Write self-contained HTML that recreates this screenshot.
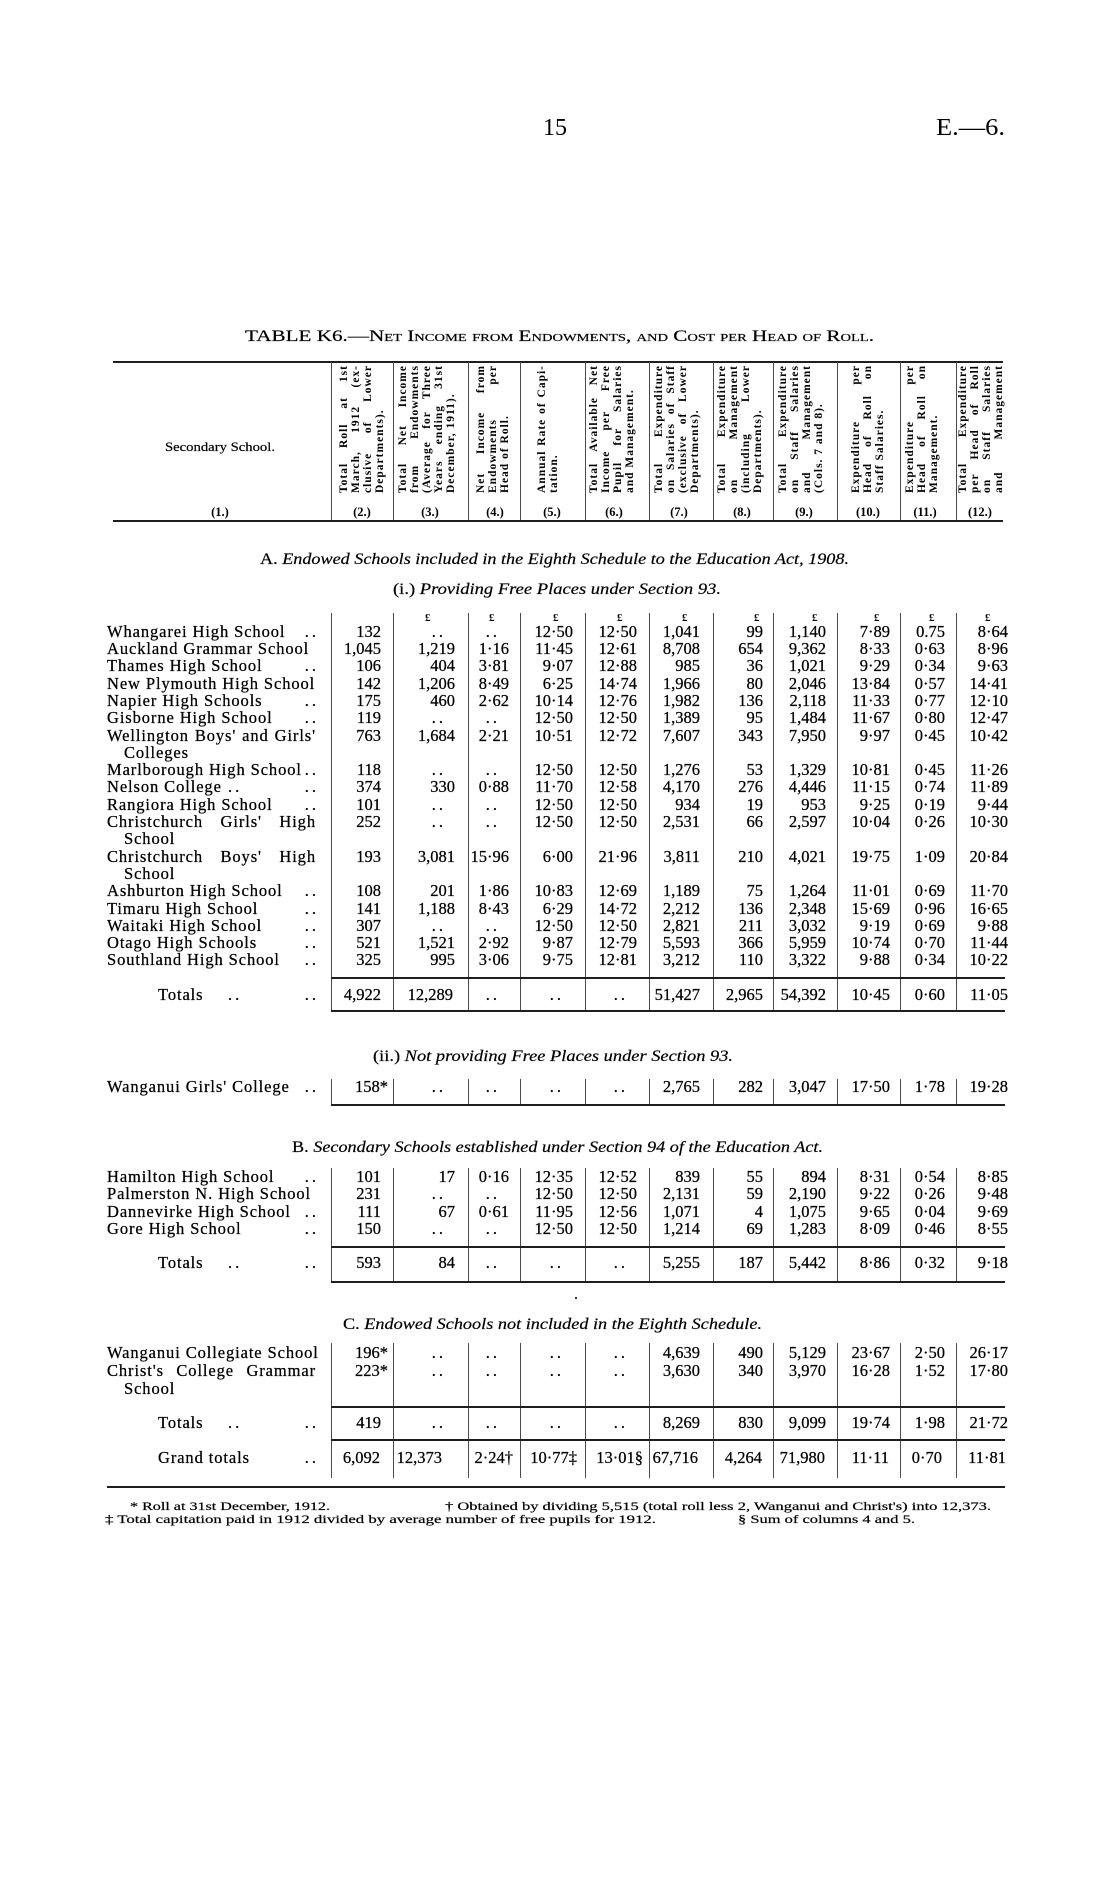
<!DOCTYPE html>
<html><head><meta charset="utf-8">
<style>
html,body{margin:0;padding:0;background:#fff}
body{width:1114px;height:1882px;position:relative;overflow:hidden;font-family:"Liberation Serif",serif;color:#000}
.a{position:absolute;white-space:nowrap}
.fit{display:inline-block;transform-origin:0 50%}
.r{position:absolute;left:0;width:1114px;height:18px;line-height:18px;font-size:16.5px;-webkit-text-stroke:0.25px #000}
.r span{position:absolute;top:0;white-space:nowrap}
.n{left:107px;letter-spacing:.9px}
.j{width:209px;display:flex;justify-content:space-between}
.j i{font-style:normal}
.in{left:124px;letter-spacing:.9px}
.t{left:158px;letter-spacing:.9px}
.x{right:795px;letter-spacing:3px}
.y{left:228px;letter-spacing:3px}
.c2{right:733px}.c3{right:659px}.c4{right:605px}.c5{right:541px}.c6{right:477px}.c7{right:414px}.c8{right:351px}.c9{right:288px}.c10{right:224px}.c11{right:169px}.c12{right:106px}
.d{padding-right:9px;letter-spacing:3px}
.h{position:absolute;background:#1e1e1e;height:2px}
.v{position:absolute;background:#4a4a4a;width:1px}
.rh{position:absolute;top:493px;width:128px;transform-origin:0 0;transform:rotate(-90deg);font-weight:bold;font-size:11.5px;line-height:12px;letter-spacing:1px;color:#000}
.rh div{text-align:justify;text-align-last:justify;white-space:nowrap;overflow:visible}
.rh div.l{text-align-last:left;text-align:left}
.cn{position:absolute;top:505px;width:40px;text-align:center;font-weight:bold;font-size:12.5px;line-height:14px}
.ps{position:absolute;top:611px;font-weight:bold;font-size:11px;line-height:14px}
.hd{font-size:16px;line-height:18px;-webkit-text-stroke:0.2px #000}
.fn{font-size:11.5px;line-height:14px;-webkit-text-stroke:0.2px #000}
</style></head><body>

<div class="a" style="left:543px;top:114px;font-size:24px;line-height:28px"><span class="fit" style="--w:24">15</span></div>
<div class="a" style="left:936px;top:114px;font-size:24px;line-height:28px"><span class="fit" style="--w:69">E.—6.</span></div>

<div class="a" style="left:245px;top:328px;font-size:16px;line-height:18px;font-variant:small-caps;-webkit-text-stroke:0.2px #000"><span class="fit" style="--w:629">TABLE K6.—Net Income from Endowments, and Cost per Head of Roll.</span></div>

<!-- header lines -->
<div class="h" style="left:113px;top:361px;width:890px"></div>
<div class="h" style="left:113px;top:520px;width:890px"></div>
<div class="v" style="left:331px;top:362px;height:158px"></div>
<div class="v" style="left:393px;top:362px;height:158px"></div>
<div class="v" style="left:468px;top:362px;height:158px"></div>
<div class="v" style="left:520px;top:362px;height:158px"></div>
<div class="v" style="left:585px;top:362px;height:158px"></div>
<div class="v" style="left:649px;top:362px;height:158px"></div>
<div class="v" style="left:713px;top:362px;height:158px"></div>
<div class="v" style="left:773px;top:362px;height:158px"></div>
<div class="v" style="left:837px;top:362px;height:158px"></div>
<div class="v" style="left:900px;top:362px;height:158px"></div>
<div class="v" style="left:956px;top:362px;height:158px"></div>

<div class="a" style="left:165px;top:439px;font-size:13px;line-height:16px;-webkit-text-stroke:0.2px #000"><span class="fit" style="--w:110">Secondary School.</span></div>

<div class="rh" style="left:338px"><div>Total Roll at 1st</div><div>March, 1912 (ex-</div><div>clusive of Lower</div><div class="l">Departments).</div></div>
<div class="rh" style="left:397px"><div>Total Net Income</div><div>from Endowments</div><div>(Average for Three</div><div>Years ending 31st</div><div class="l">December, 1911).</div></div>
<div class="rh" style="left:475px"><div>Net Income from</div><div>Endowments per</div><div class="l">Head of Roll.</div></div>
<div class="rh" style="left:536px"><div>Annual Rate of Capi-</div><div class="l">tation.</div></div>
<div class="rh" style="left:588px"><div>Total Available Net</div><div>Income per Free</div><div>Pupil for Salaries</div><div class="l">and Management.</div></div>
<div class="rh" style="left:653px"><div>Total Expenditure</div><div>on Salaries of Staff</div><div>(exclusive of Lower</div><div class="l">Departments).</div></div>
<div class="rh" style="left:716px"><div>Total Expenditure</div><div>on Management</div><div>(including Lower</div><div class="l">Departments).</div></div>
<div class="rh" style="left:777px"><div>Total Expenditure</div><div>on Staff Salaries</div><div>and Management</div><div class="l">(Cols. 7 and 8).</div></div>
<div class="rh" style="left:850px"><div>Expenditure per</div><div>Head of Roll on</div><div class="l">Staff Salaries.</div></div>
<div class="rh" style="left:904px"><div>Expenditure per</div><div>Head of Roll on</div><div class="l">Management.</div></div>
<div class="rh" style="left:957px"><div>Total Expenditure</div><div>per Head of Roll</div><div>on Staff Salaries</div><div>and Management</div></div>

<div class="cn" style="left:200px">(1.)</div>
<div class="cn" style="left:342px">(2.)</div>
<div class="cn" style="left:410px">(3.)</div>
<div class="cn" style="left:475px">(4.)</div>
<div class="cn" style="left:532px">(5.)</div>
<div class="cn" style="left:594px">(6.)</div>
<div class="cn" style="left:659px">(7.)</div>
<div class="cn" style="left:722px">(8.)</div>
<div class="cn" style="left:784px">(9.)</div>
<div class="cn" style="left:848px">(10.)</div>
<div class="cn" style="left:905px">(11.)</div>
<div class="cn" style="left:960px">(12.)</div>

<!-- Section A headings -->
<div class="a hd" style="left:260px;top:551px"><span class="fit" style="--w:589">A. <i>Endowed Schools included in the Eighth Schedule to the Education Act, 1908.</i></span></div>
<div class="a hd" style="left:393px;top:581px"><span class="fit" style="--w:328">(i.) <i>Providing Free Places under Section 93.</i></span></div>

<div class="ps" style="left:425px">£</div>
<div class="ps" style="left:489px">£</div>
<div class="ps" style="left:553px">£</div>
<div class="ps" style="left:617px">£</div>
<div class="ps" style="left:682px">£</div>
<div class="ps" style="left:754px">£</div>
<div class="ps" style="left:812px">£</div>
<div class="ps" style="left:874px">£</div>
<div class="ps" style="left:929px">£</div>
<div class="ps" style="left:985px">£</div>

<!-- A(i) verticals -->
<div class="v" style="left:331px;top:613px;height:397px"></div>
<div class="v" style="left:393px;top:613px;height:397px"></div>
<div class="v" style="left:468px;top:613px;height:397px"></div>
<div class="v" style="left:520px;top:613px;height:397px"></div>
<div class="v" style="left:585px;top:613px;height:397px"></div>
<div class="v" style="left:649px;top:613px;height:397px"></div>
<div class="v" style="left:713px;top:613px;height:397px"></div>
<div class="v" style="left:773px;top:613px;height:397px"></div>
<div class="v" style="left:837px;top:613px;height:397px"></div>
<div class="v" style="left:900px;top:613px;height:397px"></div>
<div class="v" style="left:956px;top:613px;height:397px"></div>

<div class="r" style="top:623px"><span class="n">Whangarei High School</span><span class="x">..</span><span class="c2">132</span><span class="c3 d">..</span><span class="c4 d">..</span><span class="c5">12·50</span><span class="c6">12·50</span><span class="c7">1,041</span><span class="c8">99</span><span class="c9">1,140</span><span class="c10">7·89</span><span class="c11">0.75</span><span class="c12">8·64</span></div>
<div class="r" style="top:640px"><span class="n">Auckland Grammar School</span><span class="c2">1,045</span><span class="c3">1,219</span><span class="c4">1·16</span><span class="c5">11·45</span><span class="c6">12·61</span><span class="c7">8,708</span><span class="c8">654</span><span class="c9">9,362</span><span class="c10">8·33</span><span class="c11">0·63</span><span class="c12">8·96</span></div>
<div class="r" style="top:657px"><span class="n">Thames High School</span><span class="x">..</span><span class="c2">106</span><span class="c3">404</span><span class="c4">3·81</span><span class="c5">9·07</span><span class="c6">12·88</span><span class="c7">985</span><span class="c8">36</span><span class="c9">1,021</span><span class="c10">9·29</span><span class="c11">0·34</span><span class="c12">9·63</span></div>
<div class="r" style="top:675px"><span class="n">New Plymouth High School</span><span class="c2">142</span><span class="c3">1,206</span><span class="c4">8·49</span><span class="c5">6·25</span><span class="c6">14·74</span><span class="c7">1,966</span><span class="c8">80</span><span class="c9">2,046</span><span class="c10">13·84</span><span class="c11">0·57</span><span class="c12">14·41</span></div>
<div class="r" style="top:692px"><span class="n">Napier High Schools</span><span class="x">..</span><span class="c2">175</span><span class="c3">460</span><span class="c4">2·62</span><span class="c5">10·14</span><span class="c6">12·76</span><span class="c7">1,982</span><span class="c8">136</span><span class="c9">2,118</span><span class="c10">11·33</span><span class="c11">0·77</span><span class="c12">12·10</span></div>
<div class="r" style="top:709px"><span class="n">Gisborne High School</span><span class="x">..</span><span class="c2">119</span><span class="c3 d">..</span><span class="c4 d">..</span><span class="c5">12·50</span><span class="c6">12·50</span><span class="c7">1,389</span><span class="c8">95</span><span class="c9">1,484</span><span class="c10">11·67</span><span class="c11">0·80</span><span class="c12">12·47</span></div>
<div class="r" style="top:727px"><span class="n j"><i>Wellington</i><i>Boys'</i><i>and</i><i>Girls'</i></span><span class="c2">763</span><span class="c3">1,684</span><span class="c4">2·21</span><span class="c5">10·51</span><span class="c6">12·72</span><span class="c7">7,607</span><span class="c8">343</span><span class="c9">7,950</span><span class="c10">9·97</span><span class="c11">0·45</span><span class="c12">10·42</span></div>
<div class="r" style="top:744px"><span class="in">Colleges</span></div>
<div class="r" style="top:761px"><span class="n">Marlborough High School</span><span class="x">..</span><span class="c2">118</span><span class="c3 d">..</span><span class="c4 d">..</span><span class="c5">12·50</span><span class="c6">12·50</span><span class="c7">1,276</span><span class="c8">53</span><span class="c9">1,329</span><span class="c10">10·81</span><span class="c11">0·45</span><span class="c12">11·26</span></div>
<div class="r" style="top:778px"><span class="n">Nelson College</span><span class="y">..</span><span class="x">..</span><span class="c2">374</span><span class="c3">330</span><span class="c4">0·88</span><span class="c5">11·70</span><span class="c6">12·58</span><span class="c7">4,170</span><span class="c8">276</span><span class="c9">4,446</span><span class="c10">11·15</span><span class="c11">0·74</span><span class="c12">11·89</span></div>
<div class="r" style="top:796px"><span class="n">Rangiora High School</span><span class="x">..</span><span class="c2">101</span><span class="c3 d">..</span><span class="c4 d">..</span><span class="c5">12·50</span><span class="c6">12·50</span><span class="c7">934</span><span class="c8">19</span><span class="c9">953</span><span class="c10">9·25</span><span class="c11">0·19</span><span class="c12">9·44</span></div>
<div class="r" style="top:813px"><span class="n j"><i>Christchurch</i><i>Girls'</i><i>High</i></span><span class="c2">252</span><span class="c3 d">..</span><span class="c4 d">..</span><span class="c5">12·50</span><span class="c6">12·50</span><span class="c7">2,531</span><span class="c8">66</span><span class="c9">2,597</span><span class="c10">10·04</span><span class="c11">0·26</span><span class="c12">10·30</span></div>
<div class="r" style="top:830px"><span class="in">School</span></div>
<div class="r" style="top:848px"><span class="n j"><i>Christchurch</i><i>Boys'</i><i>High</i></span><span class="c2">193</span><span class="c3">3,081</span><span class="c4">15·96</span><span class="c5">6·00</span><span class="c6">21·96</span><span class="c7">3,811</span><span class="c8">210</span><span class="c9">4,021</span><span class="c10">19·75</span><span class="c11">1·09</span><span class="c12">20·84</span></div>
<div class="r" style="top:865px"><span class="in">School</span></div>
<div class="r" style="top:882px"><span class="n">Ashburton High School</span><span class="x">..</span><span class="c2">108</span><span class="c3">201</span><span class="c4">1·86</span><span class="c5">10·83</span><span class="c6">12·69</span><span class="c7">1,189</span><span class="c8">75</span><span class="c9">1,264</span><span class="c10">11·01</span><span class="c11">0·69</span><span class="c12">11·70</span></div>
<div class="r" style="top:900px"><span class="n">Timaru High School</span><span class="x">..</span><span class="c2">141</span><span class="c3">1,188</span><span class="c4">8·43</span><span class="c5">6·29</span><span class="c6">14·72</span><span class="c7">2,212</span><span class="c8">136</span><span class="c9">2,348</span><span class="c10">15·69</span><span class="c11">0·96</span><span class="c12">16·65</span></div>
<div class="r" style="top:917px"><span class="n">Waitaki High School</span><span class="x">..</span><span class="c2">307</span><span class="c3 d">..</span><span class="c4 d">..</span><span class="c5">12·50</span><span class="c6">12·50</span><span class="c7">2,821</span><span class="c8">211</span><span class="c9">3,032</span><span class="c10">9·19</span><span class="c11">0·69</span><span class="c12">9·88</span></div>
<div class="r" style="top:934px"><span class="n">Otago High Schools</span><span class="x">..</span><span class="c2">521</span><span class="c3">1,521</span><span class="c4">2·92</span><span class="c5">9·87</span><span class="c6">12·79</span><span class="c7">5,593</span><span class="c8">366</span><span class="c9">5,959</span><span class="c10">10·74</span><span class="c11">0·70</span><span class="c12">11·44</span></div>
<div class="r" style="top:951px"><span class="n">Southland High School</span><span class="x">..</span><span class="c2">325</span><span class="c3">995</span><span class="c4">3·06</span><span class="c5">9·75</span><span class="c6">12·81</span><span class="c7">3,212</span><span class="c8">110</span><span class="c9">3,322</span><span class="c10">9·88</span><span class="c11">0·34</span><span class="c12">10·22</span></div>

<div class="h" style="left:331px;top:977px;width:674px"></div>
<div class="r" style="top:986px"><span class="t">Totals</span><span class="y">..</span><span class="x">..</span><span class="c2">4,922</span><span class="c3" style="right:661px">12,289</span><span class="c4 d">..</span><span class="c5 d">..</span><span class="c6 d">..</span><span class="c7">51,427</span><span class="c8">2,965</span><span class="c9">54,392</span><span class="c10">10·45</span><span class="c11">0·60</span><span class="c12">11·05</span></div>
<div class="h" style="left:331px;top:1010px;width:674px"></div>

<!-- A(ii) -->
<div class="a hd" style="left:373px;top:1048px"><span class="fit" style="--w:360">(ii.) <i>Not providing Free Places under Section 93.</i></span></div>
<div class="v" style="left:331px;top:1079px;height:25px"></div>
<div class="v" style="left:393px;top:1079px;height:25px"></div>
<div class="v" style="left:468px;top:1079px;height:25px"></div>
<div class="v" style="left:520px;top:1079px;height:25px"></div>
<div class="v" style="left:585px;top:1079px;height:25px"></div>
<div class="v" style="left:649px;top:1079px;height:25px"></div>
<div class="v" style="left:713px;top:1079px;height:25px"></div>
<div class="v" style="left:773px;top:1079px;height:25px"></div>
<div class="v" style="left:837px;top:1079px;height:25px"></div>
<div class="v" style="left:900px;top:1079px;height:25px"></div>
<div class="v" style="left:956px;top:1079px;height:25px"></div>
<div class="r" style="top:1078px"><span class="n">Wanganui Girls' College</span><span class="x">..</span><span class="c2" style="right:726px">158*</span><span class="c3 d">..</span><span class="c4 d">..</span><span class="c5 d">..</span><span class="c6 d">..</span><span class="c7">2,765</span><span class="c8">282</span><span class="c9">3,047</span><span class="c10">17·50</span><span class="c11">1·78</span><span class="c12">19·28</span></div>
<div class="h" style="left:331px;top:1104px;width:674px"></div>

<!-- Section B -->
<div class="a hd" style="left:292px;top:1139px"><span class="fit" style="--w:531">B. <i>Secondary Schools established under Section 94 of the Education Act.</i></span></div>
<div class="v" style="left:331px;top:1168px;height:113px"></div>
<div class="v" style="left:393px;top:1168px;height:113px"></div>
<div class="v" style="left:468px;top:1168px;height:113px"></div>
<div class="v" style="left:520px;top:1168px;height:113px"></div>
<div class="v" style="left:585px;top:1168px;height:113px"></div>
<div class="v" style="left:649px;top:1168px;height:113px"></div>
<div class="v" style="left:713px;top:1168px;height:113px"></div>
<div class="v" style="left:773px;top:1168px;height:113px"></div>
<div class="v" style="left:837px;top:1168px;height:113px"></div>
<div class="v" style="left:900px;top:1168px;height:113px"></div>
<div class="v" style="left:956px;top:1168px;height:113px"></div>
<div class="r" style="top:1168px"><span class="n">Hamilton High School</span><span class="x">..</span><span class="c2">101</span><span class="c3">17</span><span class="c4">0·16</span><span class="c5">12·35</span><span class="c6">12·52</span><span class="c7">839</span><span class="c8">55</span><span class="c9">894</span><span class="c10">8·31</span><span class="c11">0·54</span><span class="c12">8·85</span></div>
<div class="r" style="top:1185px"><span class="n">Palmerston N. High School</span><span class="c2">231</span><span class="c3 d">..</span><span class="c4 d">..</span><span class="c5">12·50</span><span class="c6">12·50</span><span class="c7">2,131</span><span class="c8">59</span><span class="c9">2,190</span><span class="c10">9·22</span><span class="c11">0·26</span><span class="c12">9·48</span></div>
<div class="r" style="top:1203px"><span class="n">Dannevirke High School</span><span class="x">..</span><span class="c2">111</span><span class="c3">67</span><span class="c4">0·61</span><span class="c5">11·95</span><span class="c6">12·56</span><span class="c7">1,071</span><span class="c8">4</span><span class="c9">1,075</span><span class="c10">9·65</span><span class="c11">0·04</span><span class="c12">9·69</span></div>
<div class="r" style="top:1220px"><span class="n">Gore High School</span><span class="x">..</span><span class="c2">150</span><span class="c3 d">..</span><span class="c4 d">..</span><span class="c5">12·50</span><span class="c6">12·50</span><span class="c7">1,214</span><span class="c8">69</span><span class="c9">1,283</span><span class="c10">8·09</span><span class="c11">0·46</span><span class="c12">8·55</span></div>
<div class="h" style="left:331px;top:1246px;width:674px"></div>
<div class="r" style="top:1254px"><span class="t">Totals</span><span class="y">..</span><span class="x">..</span><span class="c2">593</span><span class="c3">84</span><span class="c4 d">..</span><span class="c5 d">..</span><span class="c6 d">..</span><span class="c7">5,255</span><span class="c8">187</span><span class="c9">5,442</span><span class="c10">8·86</span><span class="c11">0·32</span><span class="c12">9·18</span></div>
<div class="h" style="left:331px;top:1281px;width:674px"></div>
<div class="a" style="left:575px;top:1297px;width:2px;height:2px;background:#333"></div>

<!-- Section C -->
<div class="a hd" style="left:343px;top:1316px"><span class="fit" style="--w:419">C. <i>Endowed Schools not included in the Eighth Schedule.</i></span></div>
<div class="v" style="left:331px;top:1343px;height:135px"></div>
<div class="v" style="left:393px;top:1343px;height:135px"></div>
<div class="v" style="left:468px;top:1343px;height:135px"></div>
<div class="v" style="left:520px;top:1343px;height:135px"></div>
<div class="v" style="left:585px;top:1343px;height:135px"></div>
<div class="v" style="left:649px;top:1343px;height:135px"></div>
<div class="v" style="left:713px;top:1343px;height:135px"></div>
<div class="v" style="left:773px;top:1343px;height:135px"></div>
<div class="v" style="left:837px;top:1343px;height:135px"></div>
<div class="v" style="left:900px;top:1343px;height:135px"></div>
<div class="v" style="left:956px;top:1343px;height:135px"></div>
<div class="r" style="top:1344px"><span class="n">Wanganui Collegiate School</span><span class="c2" style="right:726px">196*</span><span class="c3 d">..</span><span class="c4 d">..</span><span class="c5 d">..</span><span class="c6 d">..</span><span class="c7">4,639</span><span class="c8">490</span><span class="c9">5,129</span><span class="c10">23·67</span><span class="c11">2·50</span><span class="c12">26·17</span></div>
<div class="r" style="top:1362px"><span class="n j"><i>Christ's</i><i>College</i><i>Grammar</i></span><span class="c2" style="right:726px">223*</span><span class="c3 d">..</span><span class="c4 d">..</span><span class="c5 d">..</span><span class="c6 d">..</span><span class="c7">3,630</span><span class="c8">340</span><span class="c9">3,970</span><span class="c10">16·28</span><span class="c11">1·52</span><span class="c12">17·80</span></div>
<div class="r" style="top:1380px"><span class="in">School</span></div>
<div class="h" style="left:331px;top:1406px;width:674px"></div>
<div class="r" style="top:1414px"><span class="t">Totals</span><span class="y">..</span><span class="x">..</span><span class="c2">419</span><span class="c3 d">..</span><span class="c4 d">..</span><span class="c5 d">..</span><span class="c6 d">..</span><span class="c7">8,269</span><span class="c8">830</span><span class="c9">9,099</span><span class="c10">19·74</span><span class="c11">1·98</span><span class="c12">21·72</span></div>
<div class="h" style="left:331px;top:1439px;width:674px"></div>
<div class="r" style="top:1449px"><span class="t">Grand totals</span><span class="x">..</span><span class="c2" style="right:734px">6,092</span><span class="c3" style="right:672px">12,373</span><span class="c4" style="right:601px">2·24†</span><span class="c5" style="right:537px">10·77‡</span><span class="c6" style="right:471px">13·01§</span><span class="c7" style="right:416px">67,716</span><span class="c8" style="right:352px">4,264</span><span class="c9" style="right:289px">71,980</span><span class="c10" style="right:225px">11·11</span><span class="c11" style="right:172px">0·70</span><span class="c12" style="right:108px">11·81</span></div>
<div class="h" style="left:107px;top:1486px;width:898px"></div>

<!-- footnotes -->
<div class="a fn" style="left:130px;top:1500px"><span class="fit" style="--w:200">* Roll at 31st December, 1912.</span></div>
<div class="a fn" style="left:445px;top:1500px"><span class="fit" style="--w:546">† Obtained by dividing 5,515 (total roll less 2, Wanganui and Christ's) into 12,373.</span></div>
<div class="a fn" style="left:105px;top:1513px"><span class="fit" style="--w:551">‡ Total capitation paid in 1912 divided by average number of free pupils for 1912.</span></div>
<div class="a fn" style="left:738px;top:1513px"><span class="fit" style="--w:177">§ Sum of columns 4 and 5.</span></div>

<script>
(function(){
var els=document.querySelectorAll('.fit');
for(var i=0;i<els.length;i++){
var e=els[i];var w=parseFloat(e.style.getPropertyValue('--w'));
var n=e.getBoundingClientRect().width;
if(n>0&&w>0){e.style.transform='scaleX('+(w/n)+')';}
}
})();
</script>
</body></html>
